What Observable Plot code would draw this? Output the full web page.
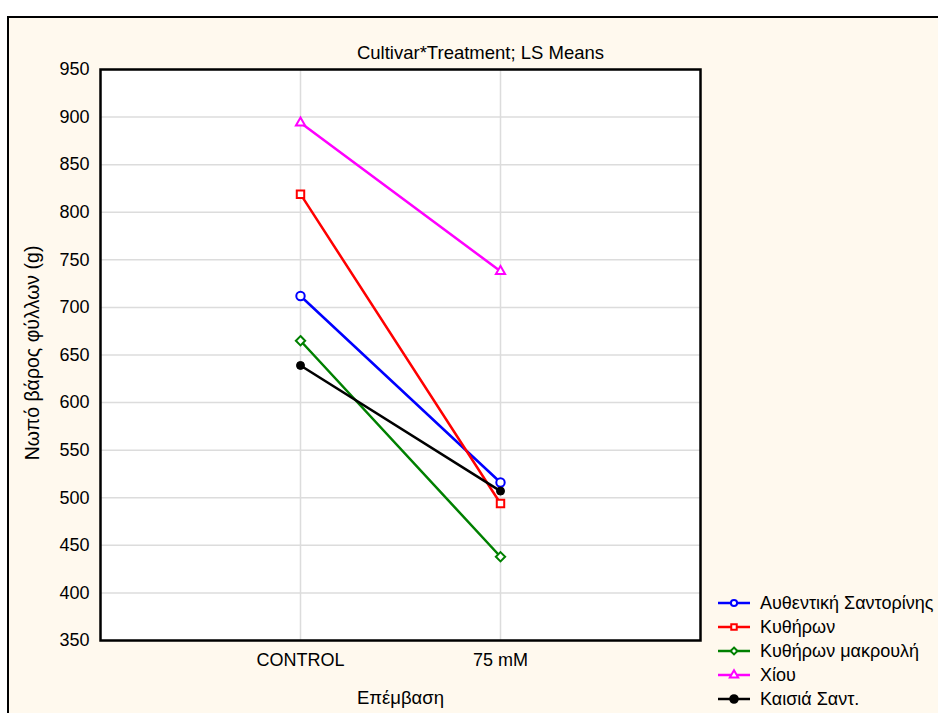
<!DOCTYPE html>
<html>
<head>
<meta charset="utf-8">
<script src="https://cdn.jsdelivr.net/npm/d3@7"></script>
<script src="https://cdn.jsdelivr.net/npm/@observablehq/plot@0.6"></script>
<style>
  html, body { margin:0; padding:0; background:#ffffff; overflow:hidden; width:938px; height:713px; }
  #frame { position:absolute; left:7px; top:16px; width:1000px; height:800px; border-left:2.5px solid #000; border-top:2.5px solid #000; background:#FFF9EE; }
  #chart { position:absolute; left:0; top:0; }
  #legend { position:absolute; left:716px; top:591px; font-family:"Liberation Sans", Arial, sans-serif; font-size:18px; color:#000; }
  #legend .row { height:24px; display:flex; align-items:center; white-space:nowrap; }
  #legend svg { margin-right:8px; }
</style>
</head>
<body>
<div id="frame"></div>
<div id="chart"></div>
<div id="legend"></div>
<script>
const cultivars = ["Αυθεντική Σαντορίνης", "Κυθήρων", "Κυθήρων μακρουλή", "Χίου", "Καισιά Σαντ."];
const treatments = ["CONTROL", "75 mM"];
const controlValues = [712, 819, 665, 894, 639];
const saltValues = [516, 494, 438, 738, 507];
const colors = ["#0000FF", "#FF0000", "#008000", "#FF00FF", "#000000"];
const symbols = ["circle", "square", "diamond2", "triangle", "circle"];
const filledSeries = ["Καισιά Σαντ."];
const yTicks = [350, 400, 450, 500, 550, 600, 650, 700, 750, 800, 850, 900, 950];
const title = "Cultivar*Treatment; LS Means";
const yLabel = "Νωπό βάρος φύλλων (g)";
const xLabel = "Επέμβαση";

const data = [];
cultivars.forEach((c, i) => {
  data.push({cultivar: c, treatment: treatments[0], value: controlValues[i]});
  data.push({cultivar: c, treatment: treatments[1], value: saltValues[i]});
});

const font = '"Liberation Sans", Arial, sans-serif';
const chart = Plot.plot({
  width: 938, height: 713,
  marginLeft: 100, marginRight: 238, marginTop: 69, marginBottom: 73,
  style: {background: "transparent", fontFamily: font, fontSize: "18px", color: "#000", overflow: "visible"},
  x: {type: "point", domain: treatments, padding: 1, label: null},
  y: {domain: [350, 950], label: null},
  color: {domain: cultivars, range: colors},
  symbol: {domain: cultivars, range: symbols},
  marks: [
    Plot.frame({fill: "white", stroke: null}),
    Plot.gridY(yTicks, {stroke: "#dcdcdc", strokeOpacity: 1, strokeWidth: 1.5}),
    Plot.gridX(treatments, {stroke: "#dcdcdc", strokeOpacity: 1, strokeWidth: 1.5}),
    Plot.axisY(yTicks, {tickSize: 0, tickPadding: 11, label: null, fontSize: 18}),
    Plot.axisX(treatments, {tickSize: 0, tickPadding: 13, label: null, fontSize: 18}),
    Plot.line(data, {x: "treatment", y: "value", z: "cultivar", stroke: "cultivar", strokeWidth: 2.5}),
    Plot.dot(data.filter(d => !filledSeries.includes(d.cultivar) && d.cultivar !== "Χίου"), {x: "treatment", y: "value", symbol: "cultivar", stroke: "cultivar", fill: "white", r: 4.2, strokeWidth: 2}),
    Plot.dot(data.filter(d => d.cultivar === "Χίου"), {x: "treatment", y: "value", symbol: "cultivar", stroke: "cultivar", fill: "white", r: 3.4, strokeWidth: 2}),
    Plot.dot(data.filter(d => filledSeries.includes(d.cultivar)), {x: "treatment", y: "value", fill: "cultivar", stroke: "cultivar", r: 4, strokeWidth: 1}),
    Plot.frame({stroke: "#000", strokeWidth: 2.5}),
    Plot.text([title], {frameAnchor: "top", dx: 80, dy: -24, fontSize: 18.5, fill: "#000"}),
    Plot.text([yLabel], {frameAnchor: "left", dx: -68, dy: -2, rotate: -90, textAnchor: "middle", fontSize: 19.5, fill: "#000"}),
    Plot.text([xLabel], {frameAnchor: "bottom", dy: 63, fontSize: 18.5, fill: "#000"})
  ]
});
document.getElementById("chart").appendChild(chart);

// legend
const legend = d3.select("#legend");
const symMap = {circle: d3.symbolCircle, square: d3.symbolSquare, diamond2: d3.symbolDiamond2, triangle: d3.symbolTriangle};
cultivars.forEach((c, i) => {
  const row = legend.append("div").attr("class", "row");
  const svg = row.append("svg").attr("width", 36).attr("height", 14);
  svg.append("line").attr("x1", 2).attr("x2", 34).attr("y1", 7).attr("y2", 7).attr("stroke", colors[i]).attr("stroke-width", 2.5);
  const filled = filledSeries.includes(c);
  svg.append("path")
    .attr("transform", "translate(18,7)")
    .attr("d", d3.symbol(symMap[symbols[i]], filled ? 45 : 30)())
    .attr("fill", filled ? colors[i] : "white")
    .attr("stroke", colors[i]).attr("stroke-width", 2);
  row.append("span").text(c);
});
</script>
</body>
</html>
